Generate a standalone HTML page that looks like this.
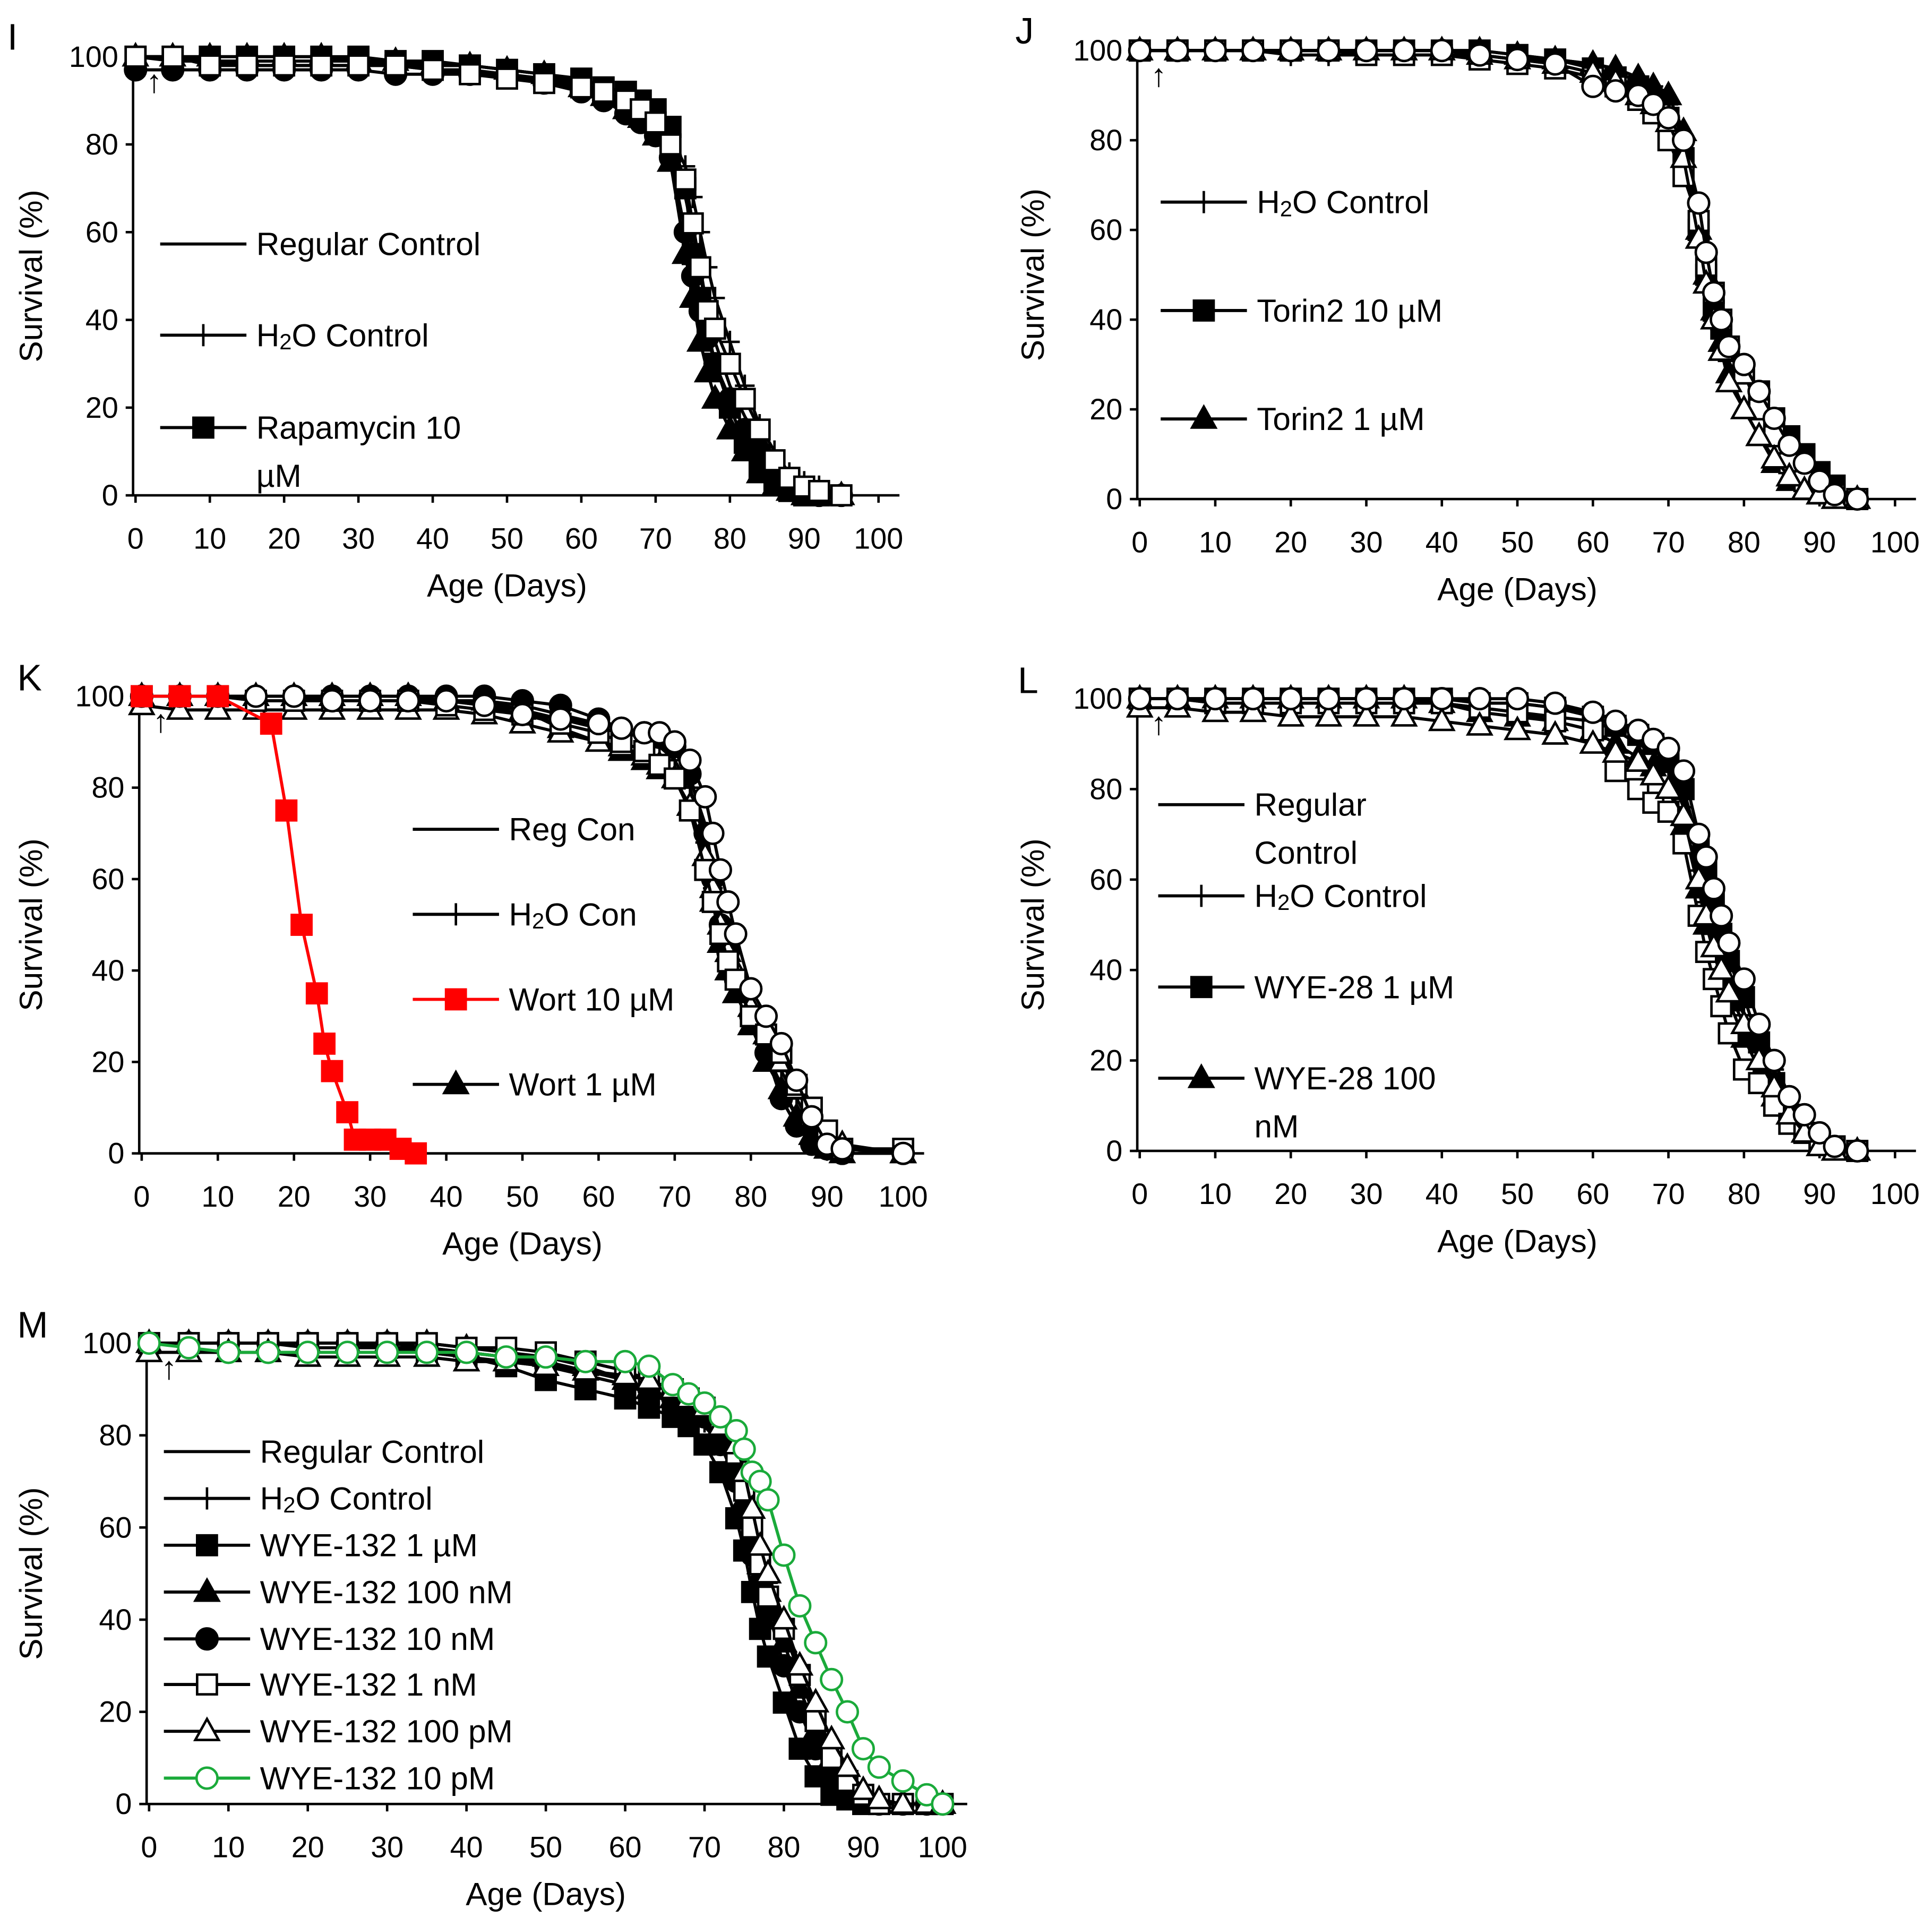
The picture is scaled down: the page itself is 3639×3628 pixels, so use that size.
<!DOCTYPE html>
<html><head><meta charset="utf-8"><style>
html,body{margin:0;padding:0;background:#fff}
svg{display:block}
text{font-family:"Liberation Sans",sans-serif;fill:#000}
</style></head><body>
<svg id="fig" width="3639" height="3628" viewBox="0 0 1568 1563" preserveAspectRatio="none" xmlns="http://www.w3.org/2000/svg">
<rect width="1568" height="1563" fill="#fff"/>
</svg>
<script>
// ---------- DATA ----------
const ticksX = [0,10,20,30,40,50,60,70,80,90,100];
const ticksY = [0,20,40,60,80,100];
const agesStd = [0,5,10,15,20,25,30,35,40,45,50,55,60,63,66,68,70,72,74,75,76,77,78,80,82,84,86,88,90,92,95];
const agesK = [0,5,10,15,20,25,30,35,40,45,50,55,60,63,66,68,70,72,74,75,76,77,78,80,82,84,86,88,90,92,100];
const agesM = [0,5,10,15,20,25,30,35,40,45,50,55,60,63,66,68,70,72,74,75,76,77,78,80,82,84,86,88,90,92,95,98,100];
const agesWort10 = [0,5,10,17,19,21,23,24,25,27,28,30,32,34,36];

const I_reg = [100,99,99,98,98,98,98,98,97,97,96,95,93,91,88,86,83,78,68,60,50,42,35,25,18,12,7,4,2,1,0];
const I_h2o = [100,100,99,99,99,99,99,98,98,98,97,96,94,92,90,88,86,82,75,68,60,52,45,35,25,16,10,5,3,2,0];
const I_rapa = [100,100,100,100,100,100,100,99,99,98,97,96,95,93,92,90,88,84,70,55,45,38,30,20,12,6,3,1,0,0,0];
const I_tri = [100,100,100,100,100,100,99,99,98,98,97,96,93,91,88,86,82,76,55,45,35,28,22,15,10,5,2,1,0,0,0];
const I_circ = [97,97,97,97,97,97,97,96,96,96,96,94,92,90,87,85,82,77,60,50,42,36,30,22,15,10,5,2,1,0,0];
const I_sqw = [100,100,98,98,98,98,98,98,97,96,95,94,93,92,90,88,85,80,72,62,52,42,38,30,22,15,8,4,2,1,0];

const J_h2o = [100,100,100,100,99,99,99,99,99,99,98,98,97,96,94,92,88,80,62,52,45,40,35,28,22,17,12,8,4,2,0];
const J_t10 = [100,100,100,100,100,100,100,100,100,100,99,98,96,94,92,89,85,76,60,50,42,38,33,28,24,18,14,10,6,3,0];
const J_t1 = [100,100,100,100,100,100,100,100,100,100,99,98,97,96,94,92,90,82,60,50,42,35,28,20,14,8,4,2,1,0,0];
const J_circw = [100,100,100,100,100,100,100,100,100,99,98,97,92,91,90,88,85,80,66,55,46,40,34,30,24,18,12,8,4,1,0];
const J_sqw = [100,100,100,100,100,100,99,99,99,98,97,96,94,92,89,86,80,72,62,52,46,40,34,28,20,14,8,4,2,1,0];
const J_triw = [100,100,100,100,100,100,100,100,100,99,98,97,95,93,90,88,84,76,58,48,40,33,26,20,14,9,5,2,1,0,0];

const K_reg = [100,100,100,100,100,100,100,100,99,99,98,96,94,93,92,90,88,82,72,62,50,45,40,30,22,15,8,4,1,0,0];
const K_h2o = [100,100,100,99,99,99,99,99,99,98,97,95,93,92,91,89,86,80,68,58,50,44,38,30,24,18,12,6,2,1,0];
const K_w1 = [100,100,100,100,100,100,100,100,99,99,97,93,90,88,86,84,82,76,65,55,46,40,35,28,20,14,8,4,1,0,0];
const K_circ = [100,100,100,100,100,100,100,100,100,100,99,98,95,93,92,91,89,83,70,60,50,44,38,30,22,12,6,2,1,0,0];
const K_circw = [100,100,100,100,100,99,99,99,99,98,96,95,94,93,92,92,90,86,78,70,62,55,48,36,30,24,16,8,2,1,0];
const K_sqw = [100,100,100,99,99,99,99,99,98,97,96,94,92,90,88,85,82,75,62,55,48,42,38,30,26,22,15,10,5,1,1];
const K_triw = [98,97,97,97,97,97,97,97,97,96,94,92,90,89,87,85,82,76,65,58,50,44,40,32,26,20,14,8,3,2,0];
const K_w10 = [100,100,100,94,75,50,35,24,18,9,3,3,3,1,0];

const L_reg = [100,100,100,100,100,100,100,100,100,99,99,98,97,95,92,90,85,78,65,58,50,45,40,30,22,15,8,4,2,1,0];
const L_h2o = [100,100,99,99,99,99,99,99,99,98,97,96,95,93,90,88,84,76,62,55,48,42,38,30,24,18,10,5,2,1,0];
const L_sq = [100,100,100,100,100,100,100,100,100,99,99,98,96,94,92,90,86,80,68,62,55,48,42,34,24,15,8,4,2,1,0];
const L_tri = [100,100,100,100,100,100,100,100,99,97,96,95,93,90,87,85,80,72,58,50,44,38,33,25,18,12,8,4,1,0,0];
const L_circw = [100,100,100,100,100,100,100,100,100,100,100,99,97,95,93,91,89,84,70,65,58,52,46,38,28,20,12,8,4,1,0];
const L_sqw = [100,100,99,99,99,99,99,99,99,98,97,95,93,84,80,77,75,68,52,44,38,32,26,18,15,10,6,4,2,1,0];
const L_triw = [98,98,97,97,96,96,96,96,95,94,93,92,90,88,86,83,80,74,60,52,45,40,35,28,20,14,8,4,1,0,0];

const M_reg = [100,100,100,100,99,99,99,98,97,96,95,93,91,89,87,85,82,78,72,66,58,52,46,35,25,16,10,5,2,1,0,0,0];
const M_h2o = [100,100,100,100,100,100,99,99,98,97,96,94,92,90,88,86,83,78,72,66,60,54,48,38,28,20,12,6,3,1,0,0,0];
const M_sq = [100,100,100,100,100,100,99,98,97,95,92,90,88,86,84,82,78,72,62,55,46,38,32,22,12,6,2,1,0,0,0,0,0];
const M_tri = [100,100,100,100,100,100,100,100,99,98,97,95,92,90,88,86,84,78,72,66,58,52,46,35,25,16,10,5,2,0,0,0,0];
const M_circ = [100,100,100,100,100,100,100,99,98,97,95,93,91,90,88,86,84,78,70,62,54,48,42,30,20,12,6,3,1,0,0,0,0];
const M_sqw = [100,100,100,100,100,100,100,100,99,99,98,96,94,92,90,88,86,82,76,68,60,52,45,38,28,18,10,5,2,0,0,0,0];
const M_triw = [98,98,98,98,97,97,97,97,96,96,95,94,93,92,90,88,86,82,78,72,64,56,50,40,30,22,14,8,3,1,0,0,0];
const M_green = [100,99,98,98,98,98,98,98,98,97,97,96,96,95,91,89,87,84,81,77,72,70,66,54,43,35,27,20,12,8,5,2,0];

// ---------- DRAWING ----------
const NS = 'http://www.w3.org/2000/svg';
const svg = document.getElementById('fig');
function mk(tag, attrs, parent){
  const e = document.createElementNS(NS, tag);
  for (const k in attrs) e.setAttribute(k, attrs[k]);
  (parent||svg).appendChild(e);
  return e;
}
function txt(parent, x, y, s, size, anchor, extra){
  const t = mk('text', Object.assign({x:x, y:y, 'font-size':size, 'text-anchor':anchor||'start', 'dominant-baseline':'central'}, extra||{}), parent);
  t.innerHTML = s;
  return t;
}
function marker(g, type, fill, x, y, color){
  const c = color || '#000';
  let e;
  if (type==='square') e = mk('rect',{x:x-8,y:y-8,width:16,height:16,fill:fill,stroke:c,'stroke-width':2},g);
  else if (type==='circle') e = mk('circle',{cx:x,cy:y,r:8.5,fill:fill,stroke:c,'stroke-width':2},g);
  else if (type==='triangle') e = mk('polygon',{points:`${x},${y-10} ${x-9.5},${y+7} ${x+9.5},${y+7}`,fill:fill,stroke:c,'stroke-width':2},g);
  else if (type==='plus') e = mk('path',{d:`M${x-8},${y}H${x+8}M${x},${y-9}V${y+9}`,stroke:c,'stroke-width':2,fill:'none'},g);
  if (e) {
    
    
  }
}

function panel(p){
  const g = mk('g',{});
  
  
  const sx = v => p.x0 + (p.x100-p.x0)*v/100;
  const sy = v => p.y0 + (p.y100-p.y0)*v/100;
  // axes
  const ax = mk('path',{d:`M${p.x0-2},${p.y100-6}V${p.y0}H${p.xEnd}`,stroke:'#000','stroke-width':2,fill:'none'},g);
  
  
  ticksX.forEach(v=>{
    mk('line',{x1:sx(v),x2:sx(v),y1:p.y0,y2:p.y0+6,stroke:'#000','stroke-width':2},g);
    const t = txt(g, sx(v), p.y0+35, v, 24, 'middle');
    
    
  });
  ticksY.forEach(v=>{
    mk('line',{x1:p.x0-8,x2:p.x0-2,y1:sy(v),y2:sy(v),stroke:'#000','stroke-width':2},g);
    const t = txt(g, p.x0-14, sy(v), v, 24, 'end');
    
    
  });
  const xt = txt(g, (sx(0)+sx(100))/2, p.y0+73, 'Age (Days)', 26, 'middle');
  
  
  const yc = (p.y0+p.y100)/2;
  const yt = txt(g, p.yTitleX, yc, 'Survival (%)', 26, 'middle', {transform:`rotate(-90 ${p.yTitleX} ${yc})`});
  
  
  const pl = txt(g, p.letterX, p.letterY, p.letter, 30, 'start');
  
  
  const ar = txt(g, sx(2.5), sy(100)+20, '↑', 26, 'middle');
  
  
  // series
  p.series.forEach(s=>{
    const sg = mk('g',{},g);
    
    
    const n = Math.min(s.ages.length, s.vals.length);
    let d = '';
    for (let i=0;i<n;i++) d += (i?'L':'M') + sx(s.ages[i]) + ',' + sy(s.vals[i]);
    const ln = mk('path',{d:d,stroke:s.color||'#000','stroke-width':2.5,fill:'none','stroke-linejoin':'round'},sg);
    
    
    if (s.m) for (let i=0;i<n;i++) marker(sg, s.m, s.fill, sx(s.ages[i]), sy(s.vals[i]), s.color);
  });
  // legend
  p.legend.forEach(L=>{
    const lg = mk('g',{},g);
    
    
    mk('line',{x1:L.x,x2:L.x+70,y1:L.y,y2:L.y,stroke:L.color||'#000','stroke-width':2.5},lg);
    if (L.m) marker(lg, L.m, L.fill, L.x+35, L.y, L.color);
    L.lines.forEach((s,i)=>txt(lg, L.x+78, L.y+i*39, s, 26, 'start'));
  });
}

const H2O = 'H<tspan font-size="18" dy="5">2</tspan><tspan dy="-5">O</tspan>';

panel({letter:'I', letterX:6, letterY:30, x0:110, x100:713, y0:402, y100:46, xEnd:730, yTitleX:25,
  series:[
    {name:'regular-control', ages:agesStd, vals:I_reg},
    {name:'h2o-control', ages:agesStd, vals:I_h2o, m:'plus'},
    {name:'circle-black', ages:agesStd, vals:I_circ, m:'circle', fill:'#000'},
    {name:'triangle-black', ages:agesStd, vals:I_tri, m:'triangle', fill:'#000'},
    {name:'rapamycin-10uM', ages:agesStd, vals:I_rapa, m:'square', fill:'#000'},
    {name:'square-white', ages:agesStd, vals:I_sqw, m:'square', fill:'#fff'}],
  legend:[
    {x:130,y:198,lines:['Regular Control']},
    {x:130,y:272,lines:[H2O+' Control'],m:'plus'},
    {x:130,y:347,lines:['Rapamycin 10','µM'],m:'square',fill:'#000'}]});

panel({letter:'J', letterX:824, letterY:25, x0:925, x100:1538, y0:405, y100:41, xEnd:1555, yTitleX:838,
  series:[
    {name:'h2o-control', ages:agesStd, vals:J_h2o, m:'plus'},
    {name:'torin2-10uM', ages:agesStd, vals:J_t10, m:'square', fill:'#000'},
    {name:'torin2-1uM', ages:agesStd, vals:J_t1, m:'triangle', fill:'#000'},
    {name:'square-white', ages:agesStd, vals:J_sqw, m:'square', fill:'#fff'},
    {name:'triangle-white', ages:agesStd, vals:J_triw, m:'triangle', fill:'#fff'},
    {name:'circle-white', ages:agesStd, vals:J_circw, m:'circle', fill:'#fff'}],
  legend:[
    {x:942,y:164,lines:[H2O+' Control'],m:'plus'},
    {x:942,y:252,lines:['Torin2 10 µM'],m:'square',fill:'#000'},
    {x:942,y:340,lines:['Torin2 1 µM'],m:'triangle',fill:'#000'}]});

panel({letter:'K', letterX:14, letterY:550, x0:115, x100:733, y0:936, y100:565, xEnd:750, yTitleX:25,
  series:[
    {name:'reg-con', ages:agesK, vals:K_reg},
    {name:'h2o-con', ages:agesK, vals:K_h2o, m:'plus'},
    {name:'wort-1uM', ages:agesK, vals:K_w1, m:'triangle', fill:'#000'},
    {name:'circle-black', ages:agesK, vals:K_circ, m:'circle', fill:'#000'},
    {name:'triangle-white', ages:agesK, vals:K_triw, m:'triangle', fill:'#fff'},
    {name:'square-white', ages:agesK, vals:K_sqw, m:'square', fill:'#fff'},
    {name:'circle-white', ages:agesK, vals:K_circw, m:'circle', fill:'#fff'},
    {name:'wort-10uM', ages:agesWort10, vals:K_w10, m:'square', fill:'#f00', color:'#f00'}],
  legend:[
    {x:335,y:673,lines:['Reg Con']},
    {x:335,y:742,lines:[H2O+' Con'],m:'plus'},
    {x:335,y:811,lines:['Wort 10 µM'],m:'square',fill:'#f00',color:'#f00'},
    {x:335,y:880,lines:['Wort 1 µM'],m:'triangle',fill:'#000'}]});

panel({letter:'L', letterX:826, letterY:552, x0:925, x100:1538, y0:934, y100:567, xEnd:1555, yTitleX:838,
  series:[
    {name:'regular-control', ages:agesStd, vals:L_reg},
    {name:'h2o-control', ages:agesStd, vals:L_h2o, m:'plus'},
    {name:'wye28-1uM', ages:agesStd, vals:L_sq, m:'square', fill:'#000'},
    {name:'wye28-100nM', ages:agesStd, vals:L_tri, m:'triangle', fill:'#000'},
    {name:'square-white', ages:agesStd, vals:L_sqw, m:'square', fill:'#fff'},
    {name:'triangle-white', ages:agesStd, vals:L_triw, m:'triangle', fill:'#fff'},
    {name:'circle-white', ages:agesStd, vals:L_circw, m:'circle', fill:'#fff'}],
  legend:[
    {x:940,y:653,lines:['Regular','Control']},
    {x:940,y:727,lines:[H2O+' Control'],m:'plus'},
    {x:940,y:801,lines:['WYE-28 1 µM'],m:'square',fill:'#000'},
    {x:940,y:875,lines:['WYE-28 100','nM'],m:'triangle',fill:'#000'}]});

panel({letter:'M', letterX:14, letterY:1075, x0:121, x100:765, y0:1464, y100:1090, xEnd:785, yTitleX:25,
  series:[
    {name:'regular-control', ages:agesM, vals:M_reg},
    {name:'h2o-control', ages:agesM, vals:M_h2o, m:'plus'},
    {name:'wye132-1uM', ages:agesM, vals:M_sq, m:'square', fill:'#000'},
    {name:'wye132-100nM', ages:agesM, vals:M_tri, m:'triangle', fill:'#000'},
    {name:'wye132-10nM', ages:agesM, vals:M_circ, m:'circle', fill:'#000'},
    {name:'wye132-1nM', ages:agesM, vals:M_sqw, m:'square', fill:'#fff'},
    {name:'wye132-100pM', ages:agesM, vals:M_triw, m:'triangle', fill:'#fff'},
    {name:'wye132-10pM', ages:agesM, vals:M_green, m:'circle', fill:'#fff', color:'#1aaa3a'}],
  legend:[
    {x:133,y:1178,lines:['Regular Control']},
    {x:133,y:1216,lines:[H2O+' Control'],m:'plus'},
    {x:133,y:1254,lines:['WYE-132 1 µM'],m:'square',fill:'#000'},
    {x:133,y:1292,lines:['WYE-132 100 nM'],m:'triangle',fill:'#000'},
    {x:133,y:1330,lines:['WYE-132 10 nM'],m:'circle',fill:'#000'},
    {x:133,y:1367,lines:['WYE-132 1 nM'],m:'square',fill:'#fff'},
    {x:133,y:1405,lines:['WYE-132 100 pM'],m:'triangle',fill:'#fff'},
    {x:133,y:1443,lines:['WYE-132 10 pM'],m:'circle',fill:'#fff',color:'#1aaa3a'}]});
</script>
</body></html>
